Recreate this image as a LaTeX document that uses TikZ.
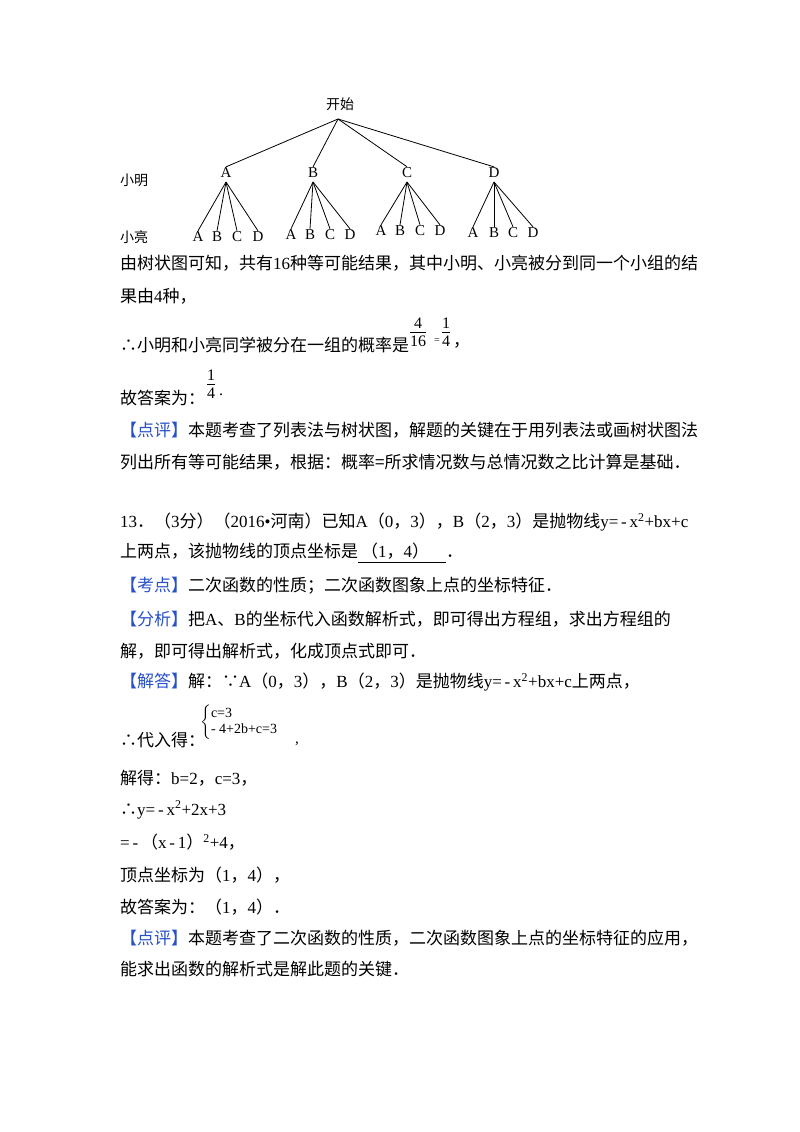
\documentclass[tikz,border=0pt]{standalone}
\usepackage{amsmath}
\usepackage{fontspec}
\setmainfont{Liberation Serif}
\newfontfamily\cjk{Noto Sans CJK SC}
\newcommand\lat[1]{{\rmfamily #1}}
\newcommand\myfrac[2]{\begin{tabular}{@{}c@{}}#1\\[-2pt]\hline\rule{0pt}{14pt}#2\end{tabular}}
\definecolor{dpblue}{RGB}{40,80,200}
\begin{document}
\begin{tikzpicture}[x=1pt,y=-1pt,
  tx/.style={anchor=west,inner sep=0pt,font=\cjk\fontsize{17}{20}\selectfont},
  lv/.style={inner sep=1pt,font=\rmfamily\fontsize{15}{16}\selectfont},
  lab/.style={inner sep=0pt,font=\cjk\fontsize{14}{16}\selectfont},
  fr/.style={inner sep=0pt,anchor=west,font=\rmfamily\fontsize{16}{18}\selectfont},
  br/.style={line width=0.8pt}]
\useasboundingbox (0,0) rectangle (800,1132);
\fill[white] (0,0) rectangle (800,1132);
% tree
\node[lab] (start) at (340,104) {开始};
\coordinate (r) at (338,119);
\node[lab] (xm) at (134,180) {小明};
\node[lab] (xl) at (134,237) {小亮};
\foreach \n/\x in {A/226,B/313,C/407,D/494}{
  \node[lv] (L\n) at (\x,173) {\n};
  \draw[br] (r) -- (L\n.north);
  \coordinate (p\n) at (\x,182);
}
\foreach \p/\xa/\xb/\xc/\xd/\y in {A/198/217/237/258/237,B/291/310/330/350/235,C/381/400/420/440/231,D/473/494/513/533/233}{
  \foreach \c/\x in {A/\xa,B/\xb,C/\xc,D/\xd}{
    \node[lv] (\p\c) at (\x,\y) {\c};
    \draw[br] (p\p) -- (\p\c.north);
  }
}
% text
\node[tx] (t1) at (120,263) {由树状图可知，共有\lat{16}种等可能结果，其中小明、小亮被分到同一个小组的结};
\node[tx] (t2) at (120,296) {果由\lat{4}种，};
\node[tx] (t3) at (120,345) {∴小明和小亮同学被分在一组的概率是};
\node[fr] (f1a) at (410,334) {\myfrac{4}{16}};
\node[fr] (eq) at (434,341) {\fontsize{10}{10}\selectfont=};
\node[fr] (f1b) at (442,334) {\myfrac{1}{4}};
\node[tx] (cm1) at (453,345) {，};
\node[tx] (t4) at (120,398) {故答案为：};
\node[fr] (f2) at (207,386) {\myfrac{1}{4}};
\node[fr] (dot2) at (219,395) {.};
\node[tx] (t5) at (120,430) {\color{dpblue}【点评】\color{black}本题考查了列表法与树状图，解题的关键在于用列表法或画树状图法};
\node[tx] (t6) at (120,462) {列出所有等可能结果，根据：概率=所求情况数与总情况数之比计算是基础．};
\node[tx] (t7) at (120,522) {\lat{13}．（\lat{3}分）（\lat{2016•}河南）已知\lat{A}（\lat{0}，\lat{3}），\lat{B}（\lat{2}，\lat{3}）是抛物线\lat{y=\,-\,x\textsuperscript{2}+bx+c}};
\node[tx] (t8) at (120,553) {上两点，该抛物线的顶点坐标是\underline{\,（\lat{1}，\lat{4}）\quad}．};
\node[tx] (t9) at (120,586) {\color{dpblue}【考点】\color{black}二次函数的性质；二次函数图象上点的坐标特征．};
\node[tx] (t10) at (120,619) {\color{dpblue}【分析】\color{black}把\lat{A}、\lat{B}的坐标代入函数解析式，即可得出方程组，求出方程组的};
\node[tx] (t11) at (120,651) {解，即可得出解析式，化成顶点式即可．};
\node[tx] (t12) at (120,682) {\color{dpblue}【解答】\color{black}解：∵\lat{A}（\lat{0}，\lat{3}），\lat{B}（\lat{2}，\lat{3}）是抛物线\lat{y=\,-\,x\textsuperscript{2}+bx+c}上两点，};
\node[tx] (t13) at (120,740) {∴代入得：};
\node[inner sep=0pt,anchor=west,font=\rmfamily\fontsize{14}{16}\selectfont] (sys) at (200,722) {$\left\{\begin{array}{@{}l@{}}\text{c=3}\\ \text{- 4+2b+c=3}\end{array}\right.$};
\node[inner sep=0pt,font=\rmfamily\fontsize{15}{17}\selectfont] (cm) at (297,744) {,};
\node[tx] (t14) at (120,778) {解得：\lat{b=2}，\lat{c=3}，};
\node[tx] (t15) at (120,810) {∴\lat{y=\,-\,x\textsuperscript{2}+2x+3}};
\node[tx] (t16) at (120,842) {\lat{=\,-\,}（\lat{x\,-\,1}）\lat{\textsuperscript{2}+4}，};
\node[tx] (t17) at (120,875) {顶点坐标为（\lat{1}，\lat{4}），};
\node[tx] (t18) at (120,907) {故答案为：（\lat{1}，\lat{4}）．};
\node[tx] (t19) at (120,938) {\color{dpblue}【点评】\color{black}本题考查了二次函数的性质，二次函数图象上点的坐标特征的应用，};
\node[tx] (t20) at (120,969) {能求出函数的解析式是解此题的关键．};
\end{tikzpicture}
\end{document}
